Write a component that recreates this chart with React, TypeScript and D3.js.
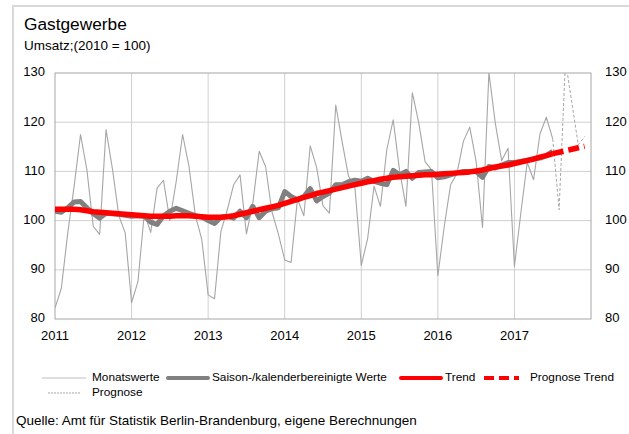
import React from 'react';
import * as d3 from 'd3';

// ---- data ----
const yearLabels = ['2011', '2012', '2013', '2014', '2015', '2016', '2017'];
const yTicks = [80, 90, 100, 110, 120, 130];

// Monatswerte, Jan 2011 .. Jul 2017
const monthly = [
  82.2, 86.3, 97.5, 107.0, 117.5, 110.3, 98.8, 97.2, 118.5, 110.5, 101.0, 97.5,
  83.3, 87.6, 101.5, 97.6, 106.6, 108.2, 100.0, 108.0, 117.5, 111.0, 101.0, 96.2,
  84.9, 84.1, 97.8, 102.2, 107.3, 109.3, 97.3, 103.5, 114.1, 111.0, 101.8, 97.3,
  92.0, 91.5, 104.4, 101.0, 115.2, 110.8, 103.0, 101.5, 123.5, 116.0, 109.0, 106.8,
  90.9, 96.4, 107.0, 102.9, 114.4, 120.5, 110.2, 102.9, 126.0, 119.9, 112.0, 110.3,
  88.8, 98.8, 107.3, 109.6, 116.1, 119.0, 112.0, 98.6, 130.1, 119.8, 112.2, 114.7,
  90.7, 101.5, 111.8, 108.3, 117.6, 121.0, 116.6,
];

// Prognose (Monatswerte), Jul 2017 .. Dec 2017
const forecastMonthly = [116.6, 102.2, 132.5, 124.0, 115.4, 117.1];

// Saison-/kalenderbereinigte Werte, Jan 2011 .. Jul 2017
const adjusted = [
  101.9, 101.7, 102.6, 103.8, 103.9, 102.6, 101.4, 100.5, 101.5, 101.4, 101.3, 101.1,
  100.9, 101.0, 100.9, 99.7, 99.2, 101.0, 101.9, 102.5, 102.0, 101.5, 101.0, 100.7,
  100.0, 99.4, 100.7, 100.9, 100.5, 101.9, 100.6, 102.9, 100.6, 101.9, 102.4, 102.6,
  105.9, 104.9, 104.2, 104.9, 106.5, 104.0, 104.9, 105.6, 107.3, 107.3, 107.9, 108.2,
  108.0, 108.6, 108.0, 107.6, 107.3, 110.2, 109.3, 110.0, 108.6, 109.8, 109.9, 110.0,
  108.7, 108.9, 109.3, 109.7, 110.0, 110.0, 110.0, 108.8, 111.0, 110.7, 111.3, 111.8,
  111.8, 112.0, 112.3, 112.6, 112.7, 113.2, 114.1,
];

// Trend, Jan 2011 .. Jul 2017
const trend = [
  102.3, 102.3, 102.3, 102.3, 102.2, 102.0, 101.8, 101.7, 101.6, 101.5, 101.4, 101.3,
  101.2, 101.1, 101.0, 100.9, 100.9, 100.9, 100.9, 101.0, 101.0, 101.0, 100.9, 100.8,
  100.7, 100.7, 100.7, 100.8, 101.0, 101.3, 101.6, 101.9, 102.2, 102.5, 102.8, 103.1,
  103.5, 103.9, 104.3, 104.7, 105.1, 105.5, 105.8, 106.1, 106.4, 106.7, 107.0, 107.3,
  107.6, 107.9, 108.1, 108.4, 108.6, 108.8, 108.9, 109.0, 109.1, 109.2, 109.3, 109.3,
  109.4, 109.5, 109.6, 109.7, 109.8, 109.9, 110.1, 110.3, 110.6, 110.9, 111.1, 111.3,
  111.6, 111.9, 112.2, 112.5, 112.9, 113.2, 113.6,
];

// Prognose Trend, Jul 2017 .. Dec 2017
const forecastTrend = [113.6, 113.9, 114.2, 114.5, 114.8, 115.1];

const MONTHS_TOTAL = yearLabels.length * 12;

export default function App() {
  const W = 629;
  const H = 434;
  const left = 55;
  const right = 591;
  const top = 73;
  const bottom = 319;

  const x = d3.scaleLinear().domain([0, MONTHS_TOTAL]).range([left, right]);
  const y = d3.scaleLinear().domain([80, 130]).range([bottom, top]);

  const lineFrom = (offset: number) =>
    d3
      .line<number>()
      .x((_, i) => x(i + offset))
      .y((d) => y(d));

  const forecastOffset = monthly.length - 1;
  const font = '"Liberation Sans", Arial, sans-serif';
  const gridColor = '#d0d0d0';

  return (
    <svg
      width={W}
      height={H}
      style={{ position: 'absolute', left: 0, top: 0, background: '#fff' }}
      fontFamily={font}
    >
      <defs>
        <clipPath id="plotClip">
          <rect x={left} y={top} width={right - left} height={bottom - top} />
        </clipPath>
      </defs>
      <rect x={0} y={0} width={W} height={H} fill="#fff" />
      {/* frame */}
      <path d={`M13,${H} L13,6 L${W},6`} fill="none" stroke="#d9d9d9" strokeWidth={2} />

      {/* titles */}
      <text x={24} y={30} fontSize={17.3} fill="#000">Gastgewerbe</text>
      <text x={24} y={50} fontSize={13.5} fill="#000">Umsatz;(2010 = 100)</text>

      {/* grid */}
      {yTicks
        .filter((t) => t > 80 && t < 130)
        .map((t) => (
          <line key={'h' + t} x1={left} x2={right} y1={y(t)} y2={y(t)} stroke={gridColor} strokeWidth={1} />
        ))}
      {yearLabels.slice(1).map((_, k) => (
        <line
          key={'v' + k}
          x1={x((k + 1) * 12)}
          x2={x((k + 1) * 12)}
          y1={top}
          y2={bottom}
          stroke={gridColor}
          strokeWidth={1}
        />
      ))}
      <rect x={left} y={top} width={right - left} height={bottom - top} fill="none" stroke="#a6a6a6" strokeWidth={1} />

      {/* axis labels */}
      {yTicks.map((t) => (
        <g key={'yl' + t} fontSize={13} fill="#000">
          <text x={45} y={y(t)} textAnchor="end" dominantBaseline="middle">{t}</text>
          <text x={605} y={y(t)} textAnchor="start" dominantBaseline="middle">{t}</text>
        </g>
      ))}
      {yearLabels.map((lab, k) => (
        <text key={'xl' + lab} x={x(k * 12)} y={340} textAnchor="middle" fontSize={13} fill="#000">
          {lab}
        </text>
      ))}

      {/* series */}
      <g clipPath="url(#plotClip)" fill="none" strokeLinejoin="round">
        <path d={lineFrom(0)(monthly) ?? ''} stroke="#a6a6a6" strokeWidth={1.1} />
        <path
          d={lineFrom(forecastOffset)(forecastMonthly) ?? ''}
          stroke="#a6a6a6"
          strokeWidth={1}
          strokeDasharray="3,2"
        />
        <path d={lineFrom(0)(adjusted) ?? ''} stroke="#808080" strokeWidth={5} />
        <path d={lineFrom(0)(trend) ?? ''} stroke="#ff0000" strokeWidth={5.5} />
        <path
          d={lineFrom(forecastOffset)(forecastTrend) ?? ''}
          stroke="#ff0000"
          strokeWidth={5.5}
          strokeDasharray="11,5"
        />
      </g>

      {/* legend */}
      <g fontSize={11.8} fill="#000">
        <line x1={42} x2={86} y1={378} y2={378} stroke="#c0c0c0" strokeWidth={1} />
        <text x={92} y={378} dominantBaseline="middle">Monatswerte</text>
        <line x1={48} x2={80} y1={393} y2={393} stroke="#a6a6a6" strokeWidth={1} strokeDasharray="2,1" />
        <text x={92} y={393} dominantBaseline="middle">Prognose</text>
        <line x1={168} x2={208} y1={378} y2={378} stroke="#808080" strokeWidth={4} strokeLinecap="round" />
        <text x={212} y={378} dominantBaseline="middle">Saison-/kalenderbereinigte Werte</text>
        <line x1={401} x2={441} y1={378} y2={378} stroke="#ff0000" strokeWidth={4} strokeLinecap="round" />
        <text x={445} y={378} dominantBaseline="middle">Trend</text>
        <line x1={484} x2={519} y1={378} y2={378} stroke="#ff0000" strokeWidth={4} strokeDasharray="10,5" />
        <text x={530} y={378} dominantBaseline="middle">Prognose Trend</text>
      </g>

      <text x={16} y={421} fontSize={13.5} dominantBaseline="middle" fill="#000">
        Quelle: Amt für Statistik Berlin-Brandenburg, eigene Berechnungen
      </text>
    </svg>
  );
}
